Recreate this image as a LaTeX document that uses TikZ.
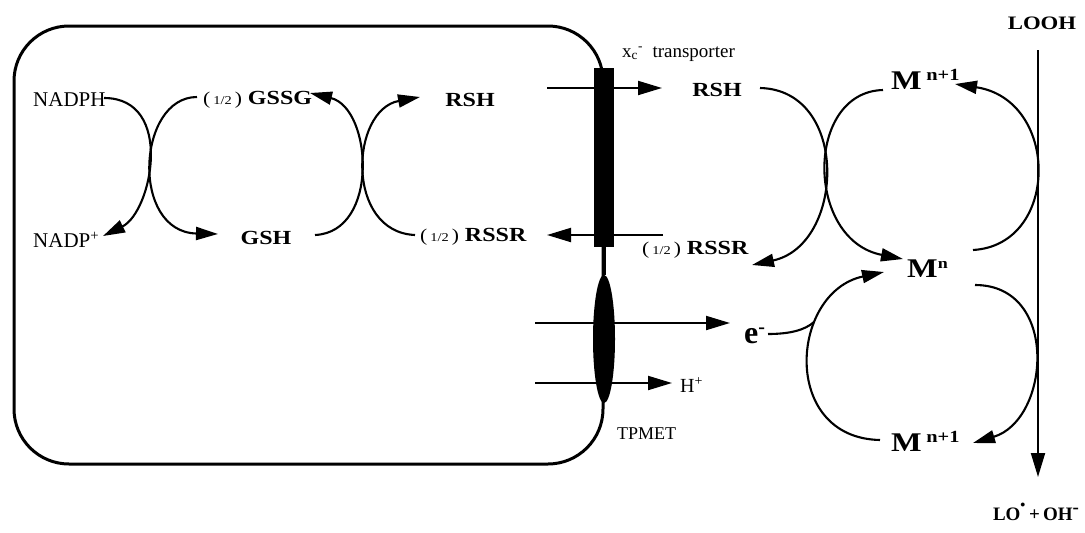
\documentclass[tikz,border=0pt]{standalone}
\usepackage{fontspec}
\usepackage{graphicx}
\setmainfont{Liberation Serif}
\newfontfamily\wideb[FakeStretch=1.2]{Liberation Serif}
\usetikzlibrary{arrows.meta,shapes.geometric}
\newcommand{\halfpre}{{\mdseries\fontsize{18}{18}\selectfont(\,{\fontsize{12}{12}\selectfont 1/2}\,)}\ }
\begin{document}
\begin{tikzpicture}[x=1pt,y=-1pt,
  bl/.style={font=\wideb\bfseries\fontsize{20}{20}\selectfont, inner sep=0pt},
  rg/.style={font=\fontsize{21}{21}\selectfont, inner sep=0pt},
  mm/.style={font=\wideb\bfseries\fontsize{27}{27}\selectfont, inner sep=0pt},
  conn/.style={line width=2.1pt, -{Triangle[length=22pt,width=13pt]}},
  flow/.style={line width=2pt, -{Triangle[length=24pt,width=14pt]}},
  curve/.style={line width=2.1pt},
]
\useasboundingbox (0,0) rectangle (1085,533);
\fill[white] (0,0) rectangle (1085,533);

% cell
\draw[line width=3pt, rounded corners=55pt] (14,26) rectangle (603,464);

% membrane proteins
\node[fill=black, minimum width=20pt, minimum height=179pt, inner sep=0pt] (bar) at (604,157.5) {};
\node[ellipse, fill=black, minimum width=22pt, minimum height=128pt, inner sep=0pt] (tpm) at (604,339) {};
\draw[line width=3pt] (bar.south) -- (tpm.north);

% labels
\node[rg, anchor=west] (nadph) at (33,100) {NADPH};
\node[rg, anchor=west] (nadp) at (33,240) {NADP\textsuperscript{+}};
\node[bl, anchor=west] (gssg) at (203,100) {\halfpre GSSG};
\node[bl] (gsh) at (266,238) {GSH};
\node[bl] (rshin) at (470,100) {RSH};
\node[bl, anchor=west] (rssrin) at (420,237) {\halfpre RSSR};
\node[bl] (rshout) at (717,90) {RSH};
\node[bl, anchor=west] (rssrout) at (642,250) {\halfpre RSSR};
\node[inner sep=0pt, anchor=base west, font=\fontsize{19}{19}\selectfont] (xc) at (622,57) {x\textsubscript{c}\textsuperscript{-}\ \ transporter};
\node[mm, anchor=base west] (mtop) at (891,89) {M\,\raisebox{9pt}{\fontsize{17}{17}\selectfont n+1}};
\node[mm, anchor=base west] (mn) at (907,277) {M\raisebox{9pt}{\fontsize{15}{15}\selectfont n}};
\node[mm, anchor=base west] (mbot) at (891,451) {M\,\raisebox{9pt}{\fontsize{17}{17}\selectfont n+1}};
\node[inner sep=0pt, anchor=base west, font=\bfseries\fontsize{32}{32}\selectfont] (el) at (744,343) {e\raisebox{10pt}{\fontsize{20}{20}\selectfont -}};
\node[bl, anchor=base, font=\wideb\bfseries\fontsize{19}{19}\selectfont] (looh) at (1042,29) {LOOH};
\node[bl, anchor=base, font=\bfseries\fontsize{19}{19}\selectfont] (lo) at (1036,520) {LO\raisebox{7pt}{\fontsize{14}{14}\selectfont$^\bullet$}\,+\,OH\raisebox{7pt}{-}};
\node[inner sep=0pt, anchor=base west, font=\fontsize{18}{18}\selectfont] (tpmet) at (617,439) {TPMET};
\node[inner sep=0pt, anchor=west, font=\fontsize{20}{20}\selectfont] (hp) at (680,385) {H\textsuperscript{+}};

% straight transport arrows
\coordinate (t1s) at (547,88);   \coordinate (t1e) at (662,88);
\coordinate (t2s) at (663,235);  \coordinate (t2e) at (547,235);
\coordinate (t3s) at (535,323);  \coordinate (t3e) at (730,323);
\coordinate (t4s) at (535,383);  \coordinate (t4e) at (672,383);
\draw[flow] (t1s) -- (t1e);
\draw[flow] (t2s) -- (t2e);
\draw[flow] (t3s) -- (t3e);
\draw[flow] (t4s) -- (t4e);

% LOOH line
\coordinate (ls) at (1038,50); \coordinate (le) at (1038,477);
\draw[flow] (ls) -- (le);

% left cycle
\coordinate (a1s) at (104,98);  \coordinate (a1e) at (103,236);
\draw[conn] (a1s) .. controls (175,98) and (152,212) .. (a1e);
\coordinate (a2s) at (197,97);  \coordinate (a2e) at (218,234);
\draw[conn] (a2s) .. controls (137,97) and (130,232) .. (a2e);

% middle cycle
\coordinate (b1s) at (315,235); \coordinate (b1e) at (310,93);
\draw[conn] (b1s) .. controls (380,232) and (372,108) .. (b1e);
\coordinate (b2s) at (415,235); \coordinate (b2e) at (420,97);
\draw[conn] (b2s) .. controls (345,232) and (350,110) .. (b2e);

% right upper cycle
\coordinate (c1s) at (760,88);  \coordinate (c1e) at (752,265);
\draw[conn] (c1s) .. controls (850,90) and (845,245) .. (c1e);
\coordinate (c2s) at (883,90);  \coordinate (c2e) at (903,259);
\draw[conn] (c2s) .. controls (805,92) and (805,240) .. (c2e);

% LOOH cycle
\coordinate (d1s) at (973,250); \coordinate (d1e) at (955,84);
\draw[conn] (d1s) .. controls (1060,245) and (1060,100) .. (d1e);
\coordinate (d2s) at (975,285); \coordinate (d2e) at (973,443);
\draw[conn] (d2s) .. controls (1060,285) and (1050,420) .. (d2e);

% lower left cycle
\coordinate (f1s) at (880,440); \coordinate (f1e) at (884,272);
\draw[conn] (f1s) .. controls (780,438) and (790,292) .. (f1e);
\coordinate (g1s) at (768,334); \coordinate (g1e) at (814,322);
\draw[curve] (g1s) .. controls (790,334) and (805,330) .. (g1e);
\end{tikzpicture}
\end{document}
